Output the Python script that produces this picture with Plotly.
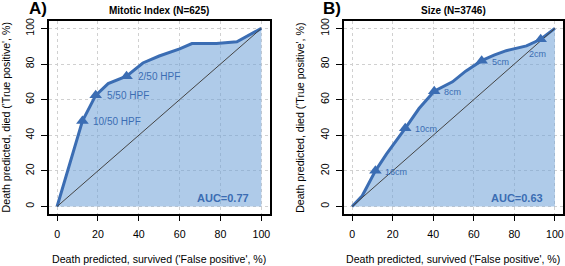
import plotly.graph_objects as go

# ---- data ----
roc_a_fpr = [0, 12.4, 18.9, 25, 34, 42, 50, 60, 66, 78, 88, 100]
roc_a_tpr = [0, 48, 62.4, 69, 73.2, 80.6, 84.5, 88.5, 91.5, 91.5, 92.5, 100]
cut_a_fpr = [12.4, 18.9, 34]
cut_a_tpr = [48, 62.4, 73.2]
cut_a_labels = ["10/50 HPF", "5/50 HPF", "2/50 HPF"]

roc_b_fpr = [0, 5, 11.5, 17, 26.2, 33, 40.5, 49.5, 56, 63.9, 70, 76, 86, 93, 100]
roc_b_tpr = [0, 6, 20, 29.5, 43.9, 55, 64.7, 70, 76, 81.9, 85, 87.5, 90.2, 93.9, 100]
cut_b_fpr = [11.5, 26.2, 40.5, 63.9, 93]
cut_b_tpr = [20, 43.9, 64.7, 81.9, 93.9]
cut_b_labels = ["16cm", "10cm", "8cm", "5cm", "2cm"]

titles = ["Mitotic Index (N=625)", "Size (N=3746)"]
panel_tags = ["A)", "B)"]
auc_labels = ["AUC=0.77", "AUC=0.63"]
tick_vals = [0, 20, 40, 60, 80, 100]
x_title = "Death predicted, survived ('False positive', %)"
y_title = "Death predicted, died ('True positive', %)"

# ---- style ----
W, H = 565, 266
BLUE = "#3b6db3"
FILL = "rgba(110,160,215,0.55)"
FONT = "Liberation Sans, Arial, sans-serif"

fig = go.Figure()

panels = [
    (roc_a_fpr, roc_a_tpr, cut_a_fpr, cut_a_tpr, cut_a_labels, "x", "y"),
    (roc_b_fpr, roc_b_tpr, cut_b_fpr, cut_b_tpr, cut_b_labels, "x2", "y2"),
]

for i, (fx, fy, cx, cy, cl, xa, ya) in enumerate(panels):
    fig.add_trace(go.Scatter(x=fx, y=fy, mode="lines", fill="tozeroy",
                             fillcolor=FILL, line=dict(color=BLUE, width=3),
                             xaxis=xa, yaxis=ya, showlegend=False, hoverinfo="skip"))
    fig.add_trace(go.Scatter(x=[0, 100], y=[0, 100], mode="lines",
                             line=dict(color="#444444", width=1),
                             xaxis=xa, yaxis=ya, showlegend=False, hoverinfo="skip"))
    fig.add_trace(go.Scatter(x=cx, y=cy, mode="markers",
                             marker=dict(symbol="triangle-up", size=11, color=BLUE),
                             xaxis=xa, yaxis=ya, showlegend=False, hoverinfo="skip"))
    for xv, yv, lab in zip(cx, cy, cl):
        if i == 0:
            fig.add_annotation(x=xv, y=yv, xref=xa, yref=ya, text=lab, showarrow=False,
                               xanchor="left", yanchor="middle", xshift=9,
                               font=dict(family=FONT, size=10, color=BLUE))
        else:
            if lab == "2cm":
                fig.add_annotation(x=xv, y=yv, xref=xa, yref=ya, text=lab, showarrow=False,
                                   xanchor="center", yanchor="middle", xshift=-3, yshift=-15,
                                   font=dict(family=FONT, size=9, color=BLUE))
            else:
                fig.add_annotation(x=xv, y=yv, xref=xa, yref=ya, text=lab, showarrow=False,
                                   xanchor="left", yanchor="middle", xshift=8, yshift=-1,
                                   font=dict(family=FONT, size=9, color=BLUE))
    fig.add_annotation(x=95, y=5, xref=xa, yref=ya, text="<b>%s</b>" % auc_labels[i],
                       showarrow=False, xanchor="right", yanchor="middle",
                       font=dict(family=FONT, size=11, color=BLUE))

# domains (pixel-based)
xdomA = [49 / W, 270 / W]
xdomB = [344.6 / W, 564 / W]
ydom = [1 - 213 / H, 1 - 18.5 / H]

axis_common = dict(range=[-4, 104], tickvals=tick_vals, ticks="outside", ticklen=6,
                   tickcolor="black", tickwidth=1, showline=True, linecolor="black",
                   linewidth=1.5, mirror=True, showgrid=True, gridcolor="#d0d0d0",
                   griddash="dot", gridwidth=1, zeroline=False,
                   tickfont=dict(family=FONT, size=10.6, color="black"), fixedrange=True)

fig.update_layout(
    width=W, height=H, margin=dict(l=0, r=0, t=0, b=0),
    paper_bgcolor="white", plot_bgcolor="white",
    xaxis=dict(domain=xdomA, anchor="y", ticklabelstandoff=4, **axis_common),
    yaxis=dict(domain=ydom, anchor="x", tickangle=-90, ticklabelstandoff=3, **axis_common),
    xaxis2=dict(domain=xdomB, anchor="y2", ticklabelstandoff=4, **axis_common),
    yaxis2=dict(domain=ydom, anchor="x2", tickangle=-90, ticklabelstandoff=3, **axis_common),
)

# panel titles, tags, axis titles
centers = [(49 + 270) / 2, (344.6 + 564) / 2]
ytitle_x = [6, 301]
tag_x = [38, 333]
for i in range(2):
    fig.add_annotation(x=centers[i] / W, y=1 - 7.5 / H, xref="paper", yref="paper",
                       text="<b>%s</b>" % titles[i], showarrow=False,
                       xanchor="center", yanchor="middle",
                       font=dict(family=FONT, size=10, color="black"))
    fig.add_annotation(x=tag_x[i] / W, y=1 - 6 / H, xref="paper", yref="paper",
                       text="<b>%s</b>" % panel_tags[i], showarrow=False,
                       xanchor="center", yanchor="middle",
                       font=dict(family=FONT, size=17, color="black"))
    fig.add_annotation(x=centers[i] / W, y=1 - 259 / H, xref="paper", yref="paper",
                       text=x_title, showarrow=False, xanchor="center", yanchor="middle",
                       font=dict(family=FONT, size=10.6, color="black"))
    fig.add_annotation(x=ytitle_x[i] / W, y=1 - 115.7 / H, xref="paper", yref="paper",
                       text=y_title, showarrow=False, textangle=-90,
                       xanchor="center", yanchor="middle",
                       font=dict(family=FONT, size=10.6, color="black"))

fig.write_html("out.html", config={"displayModeBar": False},
               post_script="document.body.style.margin='0';document.body.style.overflow='hidden';")
